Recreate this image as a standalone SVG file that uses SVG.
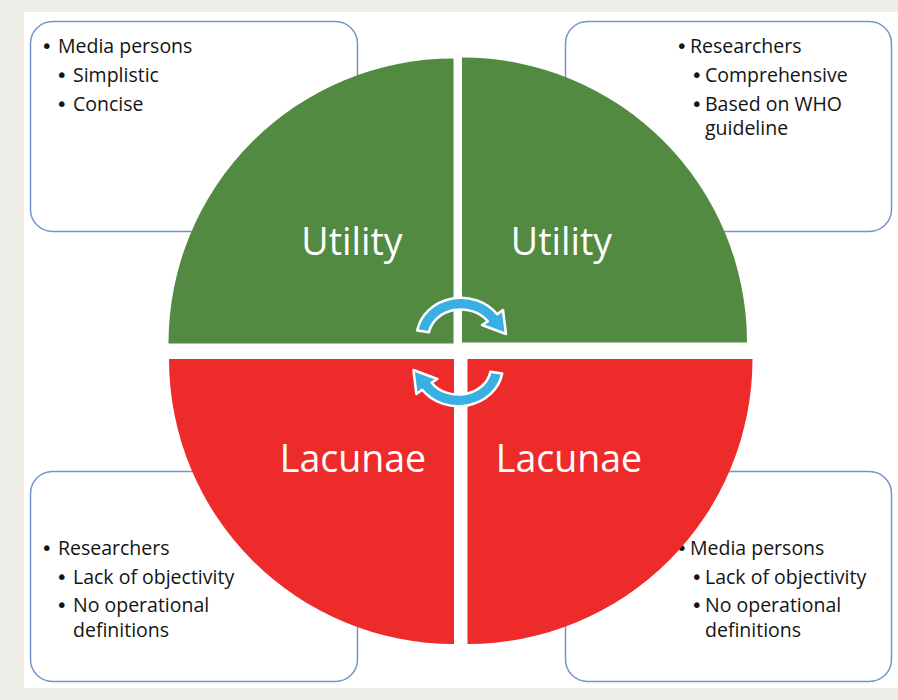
<svg xmlns="http://www.w3.org/2000/svg" width="898" height="700" viewBox="0 0 898 700">
<defs>
<style>
.box{fill:#ffffff;stroke:#7095cb;stroke-width:1.5}
.t{font-family:"Open Sans","Liberation Sans",sans-serif;font-size:19.5px;fill:#141414}
.b{font-family:"DejaVu Sans",sans-serif;font-size:19.5px}
.big{font-family:"Open Sans","Liberation Sans",sans-serif;font-size:37.5px;fill:#ffffff;text-anchor:middle}
.green{fill:#528a41}
.red{fill:#ec2b2a}
.arr{fill:#3aafe1;stroke:#ffffff;stroke-width:2.5;stroke-linejoin:round}
</style>
<path id="carrow" d="M 417.2 330.5 A 44.5 39.5 0 0 1 497.2 314.3 L 503 310 L 506 334 L 482 325 L 487.8 321.3 A 32.5 27.5 0 0 0 429 332.3 Z"/>
</defs>
<rect x="0" y="0" width="898" height="700" fill="#efede8"/>
<rect x="24" y="12" width="874" height="676" fill="#ffffff"/>

<g id="box-top-left">
<rect class="box" x="30.5" y="21.5" width="327" height="210" rx="22"/>
<text class="t" y="53"><tspan class="b" x="41">•</tspan><tspan x="58">Media persons</tspan></text>
<text class="t" y="82"><tspan class="b" x="56">•</tspan><tspan x="73">Simplistic</tspan></text>
<text class="t" y="111"><tspan class="b" x="56">•</tspan><tspan x="73">Concise</tspan></text>
</g>

<g id="box-top-right">
<rect class="box" x="565.5" y="21.5" width="326" height="210" rx="22"/>
<text class="t" y="53"><tspan class="b" x="676">•</tspan><tspan x="690">Researchers</tspan></text>
<text class="t" y="82"><tspan class="b" x="691">•</tspan><tspan x="705">Comprehensive</tspan></text>
<text class="t" y="110.5"><tspan class="b" x="691">•</tspan><tspan x="705">Based on WHO</tspan></text>
<text class="t" y="135"><tspan x="705">guideline</tspan></text>
</g>

<g id="box-bottom-left">
<rect class="box" x="30.5" y="471.5" width="327" height="210" rx="22"/>
<text class="t" y="555"><tspan class="b" x="41">•</tspan><tspan x="58">Researchers</tspan></text>
<text class="t" y="584"><tspan class="b" x="56">•</tspan><tspan x="73">Lack of objectivity</tspan></text>
<text class="t" y="612"><tspan class="b" x="56">•</tspan><tspan x="73">No operational</tspan></text>
<text class="t" y="637"><tspan x="73">definitions</tspan></text>
</g>

<g id="box-bottom-right">
<rect class="box" x="565.5" y="471.5" width="326" height="210" rx="22"/>
<text class="t" y="555"><tspan class="b" x="676">•</tspan><tspan x="690">Media persons</tspan></text>
<text class="t" y="584"><tspan class="b" x="691">•</tspan><tspan x="705">Lack of objectivity</tspan></text>
<text class="t" y="612"><tspan class="b" x="691">•</tspan><tspan x="705">No operational</tspan></text>
<text class="t" y="637"><tspan x="705">definitions</tspan></text>
</g>

<g id="utility-left">
<path class="green" d="M 453.5 343.5 L 168.5 343.5 A 285 285 0 0 1 453.5 58.5 Z"/>
<text class="big" x="352" y="254.5">Utility</text>
</g>
<g id="utility-right">
<path class="green" d="M 462 342.5 L 462 57.5 A 285 285 0 0 1 747 342.5 Z"/>
<text class="big" x="561.5" y="254.5">Utility</text>
</g>
<g id="lacunae-left">
<path class="red" d="M 454 359 L 454 644 A 285 285 0 0 1 169 359 Z"/>
<text class="big" x="353" y="472">Lacunae</text>
</g>
<g id="lacunae-right">
<path class="red" d="M 467.5 359 L 752.5 359 A 285 285 0 0 1 467.5 644 Z"/>
<text class="big" x="569" y="472">Lacunae</text>
</g>

<g id="connectors">
<use href="#carrow" class="arr"/>
<use href="#carrow" class="arr" transform="rotate(180 459.7 352)"/>
</g>
</svg>
